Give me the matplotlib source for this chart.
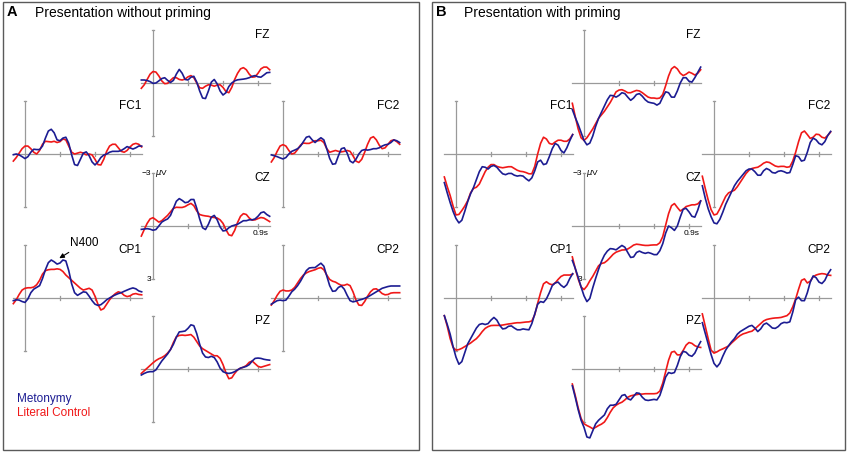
import numpy as np
import matplotlib
matplotlib.use("Agg")
import matplotlib.pyplot as plt
from matplotlib.patches import Rectangle

plt.rcParams['font.family'] = ['Liberation Sans', 'DejaVu Sans']

# ---------------- data (µV, negative plotted upward) ----------------
times = np.round(np.arange(-0.1, 1.0001, 0.025), 3)   # seconds
electrodes = ["FZ", "FC1", "FC2", "CZ", "CP1", "CP2", "PZ"]
conditions = ["Metonymy", "Literal Control"]
time_ticks = [0.3, 0.6, 0.9]

A_FZ_met = [-0.17, -0.17, -0.14, -0.08, 0.02, 0.0, -0.12, -0.25, -0.3,
            -0.15, -0.03, -0.15, -0.5, -0.77, -0.55, -0.2, -0.17, -0.33,
            -0.38, -0.05, 0.45, 0.85, 0.88, 0.45, -0.05, -0.2, 0.05,
            0.45, 0.68, 0.55, 0.2, 0.0, -0.12, -0.18, -0.2, -0.22,
            -0.25, -0.3, -0.38, -0.42, -0.35, -0.33, -0.45, -0.58, -0.6]
A_FZ_lit = [0.3, 0.1, -0.2, -0.5, -0.65, -0.62, -0.4, -0.12, 0.04,
            0.02, -0.15, -0.3, -0.3, -0.2, -0.17, -0.22, -0.35, -0.42,
            -0.3, 0.0, 0.27, 0.3, 0.18, 0.1, 0.12, 0.18, 0.12,
            0.1, 0.25, 0.48, 0.55, 0.25, -0.2, -0.55, -0.8, -0.87,
            -0.75, -0.5, -0.33, -0.35, -0.55, -0.8, -0.9, -0.9, -0.75]
A_FC1_met = [0.04, 0.0, 0.05, 0.15, 0.26, 0.15, -0.1, -0.27, -0.25,
             -0.25, -0.45, -0.9, -1.3, -1.4, -1.2, -0.8, -0.75, -0.9,
             -0.95, -0.6, 0.05, 0.6, 0.65, 0.3, -0.05, -0.12, 0.1,
             0.45, 0.62, 0.45, 0.2, 0.06, 0.0, -0.1, -0.15, -0.15,
             -0.15, -0.2, -0.3, -0.42, -0.35, -0.28, -0.35, -0.45, -0.45]
A_FC1_lit = [0.4, 0.2, -0.05, -0.3, -0.45, -0.45, -0.3, -0.1, 0.0,
             -0.2, -0.55, -0.72, -0.7, -0.68, -0.72, -0.65, -0.7, -0.85,
             -0.8, -0.45, -0.1, 0.0, -0.05, -0.1, -0.05, 0.05, 0.0,
             0.05, 0.3, 0.6, 0.62, 0.3, -0.15, -0.45, -0.55, -0.55,
             -0.35, -0.15, -0.1, -0.2, -0.4, -0.55, -0.6, -0.55, -0.4]
A_FC2_met = [0.05, 0.1, 0.15, 0.22, 0.28, 0.2, 0.0, -0.15, -0.22,
             -0.3, -0.45, -0.7, -0.95, -1.0, -0.8, -0.65, -0.8, -0.92,
             -0.8, -0.3, 0.25, 0.58, 0.55, 0.1, -0.3, -0.35, -0.05,
             0.4, 0.5, 0.3, 0.0, -0.2, -0.25, -0.22, -0.25, -0.3,
             -0.3, -0.35, -0.45, -0.52, -0.55, -0.65, -0.8, -0.75, -0.65]
A_FC2_lit = [0.45, 0.2, -0.15, -0.45, -0.53, -0.45, -0.2, 0.0, -0.05,
             -0.25, -0.5, -0.62, -0.6, -0.6, -0.68, -0.75, -0.75, -0.78,
             -0.65, -0.3, -0.1, -0.15, -0.2, -0.15, -0.12, -0.15, -0.2,
             -0.15, 0.1, 0.4, 0.48, 0.3, -0.1, -0.55, -0.9, -0.98,
             -0.8, -0.5, -0.3, -0.35, -0.55, -0.75, -0.8, -0.7, -0.55]
A_CZ_met = [0.19, 0.17, 0.15, 0.18, 0.24, 0.2, 0.0, -0.22, -0.32,
            -0.4, -0.6, -1.0, -1.4, -1.55, -1.45, -1.32, -1.35, -1.5,
            -1.5, -1.0, -0.4, 0.1, 0.2, -0.1, -0.5, -0.6, -0.35,
            0.05, 0.28, 0.25, 0.1, 0.0, -0.05, -0.1, -0.2, -0.3,
            -0.3, -0.35, -0.35, -0.4, -0.55, -0.75, -0.8, -0.65, -0.55]
A_CZ_lit = [0.57, 0.2, -0.15, -0.4, -0.47, -0.35, -0.22, -0.3, -0.45,
            -0.6, -0.8, -1.0, -1.06, -1.05, -1.05, -1.1, -1.2, -1.28,
            -1.15, -0.85, -0.65, -0.6, -0.57, -0.55, -0.5, -0.48, -0.45,
            -0.35, -0.15, 0.2, 0.5, 0.55, 0.25, -0.2, -0.55, -0.7,
            -0.65, -0.45, -0.33, -0.35, -0.42, -0.48, -0.45, -0.35, -0.25]
A_CP1_met = [0.15, 0.1, 0.12, 0.2, 0.25, 0.05, -0.3, -0.5, -0.6,
             -0.7, -1.1, -1.6, -2.0, -2.15, -2.05, -1.92, -1.98, -2.15,
             -2.1, -1.55, -0.8, -0.3, -0.15, -0.25, -0.35, -0.32, -0.1,
             0.15, 0.35, 0.42, 0.38, 0.25, 0.1, 0.0, -0.1, -0.18,
             -0.25, -0.3, -0.38, -0.45, -0.52, -0.57, -0.52, -0.4, -0.35]
A_CP1_lit = [0.32, 0.1, -0.2, -0.45, -0.55, -0.58, -0.58, -0.62, -0.75,
             -1.0, -1.35, -1.55, -1.6, -1.62, -1.62, -1.65, -1.62, -1.5,
             -1.3, -1.15, -1.0, -0.85, -0.7, -0.55, -0.45, -0.5, -0.55,
             -0.45, -0.1, 0.35, 0.68, 0.6, 0.35, 0.1, -0.1, -0.25,
             -0.35, -0.3, -0.15, -0.08, -0.12, -0.22, -0.25, -0.2, -0.18]
A_CP2_met = [0.35, 0.25, 0.15, 0.12, 0.15, 0.12, -0.1, -0.35, -0.5,
             -0.7, -0.95, -1.25, -1.55, -1.7, -1.72, -1.72, -1.85, -1.97,
             -1.8, -1.25, -0.7, -0.38, -0.4, -0.6, -0.68, -0.5, -0.15,
             0.15, 0.22, 0.18, 0.12, 0.08, 0.02, -0.05, -0.15, -0.25,
             -0.35, -0.45, -0.55, -0.6, -0.65, -0.68, -0.68, -0.68, -0.68]
A_CP2_lit = [0.4, 0.15, -0.15, -0.38, -0.45, -0.4, -0.4, -0.45, -0.6,
             -0.85, -1.1, -1.3, -1.42, -1.5, -1.55, -1.6, -1.68, -1.72,
             -1.6, -1.3, -1.05, -0.95, -0.9, -0.8, -0.72, -0.72, -0.78,
             -0.7, -0.35, 0.1, 0.4, 0.42, 0.2, -0.1, -0.35, -0.5,
             -0.52, -0.4, -0.25, -0.18, -0.2, -0.28, -0.3, -0.3, -0.3]
A_PZ_met = [0.34, 0.25, 0.18, 0.15, 0.15, 0.05, -0.2, -0.45, -0.65,
            -0.85, -1.1, -1.4, -1.8, -2.1, -2.12, -2.15, -2.3, -2.5,
            -2.45, -2.0, -1.4, -0.9, -0.68, -0.65, -0.72, -0.65, -0.4,
            -0.05, 0.15, 0.22, 0.25, 0.22, 0.15, 0.05, -0.05, -0.1,
            -0.15, -0.25, -0.45, -0.6, -0.62, -0.6, -0.55, -0.52, -0.5]
A_PZ_lit = [0.25, 0.1, -0.05, -0.2, -0.35, -0.48, -0.58, -0.65, -0.75,
            -0.9, -1.1, -1.5, -1.82, -1.9, -1.92, -1.9, -1.92, -1.95,
            -1.8, -1.55, -1.3, -1.15, -1.05, -0.95, -0.85, -0.75, -0.75,
            -0.6, -0.25, 0.2, 0.55, 0.5, 0.25, 0.05, -0.05, -0.1,
            -0.2, -0.38, -0.45, -0.3, -0.15, -0.1, -0.15, -0.2, -0.25]

B_FZ_met = [1.5, 1.95, 2.35, 2.8, 3.25, 3.5, 3.4, 3.0, 2.45,
            2.0, 1.65, 1.3, 0.95, 0.7, 0.72, 0.8, 0.7, 0.55,
            0.6, 0.8, 0.98, 0.85, 0.65, 0.6, 0.75, 0.95, 1.08,
            1.12, 1.15, 1.25, 1.15, 0.8, 0.5, 0.55, 0.8, 0.8,
            0.45, 0.0, -0.3, -0.3, -0.1, -0.05, -0.3, -0.6, -0.9]
B_FZ_lit = [1.15, 1.9, 2.6, 3.1, 3.25, 3.1, 2.85, 2.6, 2.3,
            2.0, 1.8, 1.6, 1.35, 1.1, 0.8, 0.5, 0.4, 0.38,
            0.45, 0.55, 0.55, 0.48, 0.42, 0.45, 0.55, 0.68, 0.8,
            0.85, 0.85, 0.88, 0.85, 0.65, 0.15, -0.4, -0.8, -0.93,
            -0.8, -0.55, -0.42, -0.5, -0.62, -0.55, -0.45, -0.55, -0.75]
B_FC1_met = [1.62, 2.2, 2.75, 3.25, 3.65, 3.9, 3.75, 3.25, 2.7,
             2.25, 1.9, 1.45, 1.0, 0.72, 0.75, 0.85, 0.7, 0.65,
             0.75, 0.95, 1.12, 1.17, 1.1, 1.1, 1.2, 1.25, 1.22,
             1.25, 1.4, 1.52, 1.35, 0.95, 0.45, 0.35, 0.6, 0.55,
             0.15, -0.3, -0.6, -0.5, -0.2, -0.06, -0.35, -0.75, -1.1]
B_FC1_lit = [1.3, 1.85, 2.35, 2.95, 3.45, 3.42, 3.2, 2.95, 2.65,
             2.2, 1.95, 1.88, 1.7, 1.35, 1.0, 0.75, 0.6, 0.6,
             0.7, 0.75, 0.78, 0.75, 0.72, 0.72, 0.82, 0.92, 0.98,
             1.0, 1.05, 1.12, 1.12, 0.7, 0.0, -0.6, -0.95, -0.85,
             -0.6, -0.55, -0.68, -0.78, -0.78, -0.72, -0.72, -0.85, -1.1]
B_FC2_met = [1.8, 2.5, 3.1, 3.55, 3.9, 3.95, 3.7, 3.3, 2.85,
             2.5, 2.15, 1.8, 1.55, 1.35, 1.15, 0.95, 0.85, 0.85,
             1.0, 1.2, 1.2, 0.95, 0.82, 0.9, 1.05, 1.08, 0.98,
             0.95, 1.0, 1.08, 1.05, 0.6, 0.1, 0.15, 0.4, 0.35,
             -0.1, -0.65, -0.9, -0.8, -0.6, -0.52, -0.7, -1.05, -1.28]
B_FC2_lit = [1.26, 1.95, 2.6, 3.15, 3.45, 3.4, 3.1, 2.75, 2.4,
             2.2, 2.12, 2.05, 1.85, 1.6, 1.35, 1.1, 0.92, 0.82,
             0.78, 0.75, 0.65, 0.52, 0.45, 0.48, 0.58, 0.68, 0.72,
             0.7, 0.7, 0.75, 0.72, 0.4, -0.1, -0.7, -1.2, -1.3,
             -1.1, -0.88, -0.95, -1.12, -1.1, -0.95, -0.9, -1.05, -1.25]
B_CZ_met = [1.95, 2.4, 2.9, 3.45, 3.95, 4.28, 4.1, 3.5, 2.96,
            2.45, 2.0, 1.65, 1.42, 1.28, 1.3, 1.35, 1.22, 1.1,
            1.2, 1.5, 1.78, 1.75, 1.5, 1.42, 1.5, 1.55, 1.5,
            1.55, 1.62, 1.62, 1.4, 1.0, 0.4, 0.0, 0.1, 0.25,
            0.0, -0.5, -0.95, -1.0, -0.8, -0.55, -0.5, -0.9, -1.42]
B_CZ_lit = [1.75, 2.4, 3.0, 3.45, 3.6, 3.4, 3.1, 2.85, 2.55,
            2.25, 2.12, 2.08, 1.95, 1.78, 1.6, 1.48, 1.42, 1.36,
            1.35, 1.3, 1.2, 1.08, 1.03, 1.05, 1.08, 1.1, 1.1,
            1.08, 1.07, 1.07, 0.95, 0.6, -0.05, -0.7, -1.15, -1.27,
            -1.05, -0.85, -0.95, -1.1, -1.15, -1.2, -1.2, -1.25, -1.42]
B_CP1_met = [1.0, 1.5, 2.05, 2.75, 3.35, 3.75, 3.6, 3.1, 2.6,
             2.3, 2.0, 1.7, 1.5, 1.45, 1.5, 1.45, 1.25, 1.1,
             1.25, 1.55, 1.75, 1.72, 1.6, 1.58, 1.7, 1.8, 1.8,
             1.75, 1.78, 1.8, 1.45, 0.9, 0.35, 0.2, 0.25, 0.05,
             -0.3, -0.7, -0.85, -0.9, -0.72, -0.6, -0.75, -1.1, -1.38]
B_CP1_lit = [1.0, 1.6, 2.3, 2.8, 2.95, 2.92, 2.85, 2.75, 2.65,
             2.55, 2.42, 2.3, 2.12, 1.9, 1.72, 1.62, 1.56, 1.55,
             1.55, 1.55, 1.53, 1.5, 1.47, 1.45, 1.42, 1.4, 1.4,
             1.38, 1.36, 1.35, 1.3, 0.95, 0.3, -0.3, -0.8, -0.92,
             -0.8, -0.75, -0.85, -1.05, -1.22, -1.3, -1.3, -1.3, -1.35]
B_CP2_met = [1.4, 2.0, 2.6, 3.2, 3.7, 3.9, 3.7, 3.3, 2.95,
             2.7, 2.48, 2.3, 2.05, 1.9, 1.8, 1.7, 1.6, 1.55,
             1.7, 1.9, 1.75, 1.5, 1.42, 1.55, 1.7, 1.72, 1.62,
             1.45, 1.38, 1.4, 1.35, 0.8, 0.1, -0.05, 0.15, 0.15,
             -0.3, -0.9, -1.25, -1.15, -0.9, -0.82, -1.0, -1.35, -1.6]
B_CP2_lit = [0.9, 1.6, 2.3, 2.95, 3.12, 3.05, 2.95, 2.88, 2.8,
             2.72, 2.55, 2.4, 2.25, 2.12, 2.03, 1.98, 1.92, 1.88,
             1.75, 1.6, 1.45, 1.3, 1.22, 1.18, 1.15, 1.13, 1.12,
             1.1, 1.05, 1.0, 0.85, 0.5, 0.05, -0.5, -1.0, -1.08,
             -0.85, -0.95, -1.2, -1.3, -1.35, -1.38, -1.36, -1.3, -1.28]
B_PZ_met = [0.95, 1.6, 2.3, 2.9, 3.3, 3.85, 3.9, 3.5, 3.1,
            2.9, 2.75, 2.6, 2.25, 2.05, 2.05, 2.0, 1.75, 1.5,
            1.45, 1.68, 1.75, 1.55, 1.35, 1.38, 1.6, 1.75, 1.78,
            1.75, 1.72, 1.75, 1.5, 1.0, 0.45, 0.2, 0.25, 0.2,
            -0.2, -0.7, -1.0, -0.95, -0.78, -0.72, -0.9, -1.25, -1.55]
B_PZ_lit = [0.85, 1.5, 2.2, 2.8, 3.1, 3.2, 3.28, 3.38, 3.3,
            3.2, 3.12, 3.0, 2.75, 2.45, 2.2, 2.05, 1.95, 1.88,
            1.75, 1.6, 1.52, 1.48, 1.45, 1.42, 1.42, 1.4, 1.4,
            1.4, 1.4, 1.38, 1.25, 0.8, 0.15, -0.5, -0.95, -1.0,
            -0.8, -0.8, -1.05, -1.35, -1.5, -1.45, -1.32, -1.25, -1.22]

waves = {
    "A": {"FZ": (A_FZ_met, A_FZ_lit), "FC1": (A_FC1_met, A_FC1_lit),
          "FC2": (A_FC2_met, A_FC2_lit), "CZ": (A_CZ_met, A_CZ_lit),
          "CP1": (A_CP1_met, A_CP1_lit), "CP2": (A_CP2_met, A_CP2_lit),
          "PZ": (A_PZ_met, A_PZ_lit)},
    "B": {"FZ": (B_FZ_met, B_FZ_lit), "FC1": (B_FC1_met, B_FC1_lit),
          "FC2": (B_FC2_met, B_FC2_lit), "CZ": (B_CZ_met, B_CZ_lit),
          "CP1": (B_CP1_met, B_CP1_lit), "CP2": (B_CP2_met, B_CP2_lit),
          "PZ": (B_PZ_met, B_PZ_lit)},
}
panel_titles = {"A": "Presentation without priming", "B": "Presentation with priming"}

# ---------------- layout (pixels) ----------------
W, H = 850, 453
fig = plt.figure(figsize=(W / 100, H / 100), dpi=100)

def fx(x):
    return x / W

def fy(y):
    return 1 - y / H

PX_PER_S = 35 / 0.3
HALF_H = 53           # pixels for 3 µV
site_pos = {"FZ": (153, 83), "FC1": (25, 154), "FC2": (283, 154),
            "CZ": (153, 226), "CP1": (25, 298), "CP2": (283, 298),
            "PZ": (153, 369)}
panel_dx = {"A": 0, "B": 431}
panel_frame = {"A": (3, 2, 419, 450), "B": (432, 2, 845, 450)}

BLUE = "#1c1c92"
RED = "#f01818"
AXC = "#9a9a9a"

for p in ["A", "B"]:
    x0, y0, x1, y1 = panel_frame[p]
    fig.add_artist(Rectangle((fx(x0), fy(y1)), fx(x1) - fx(x0), fy(y0) - fy(y1),
                             transform=fig.transFigure, fill=False,
                             edgecolor="#5a5a5a", linewidth=1.0))
    fig.text(fx(x0 + 4), fy(16.5), p, fontsize=10.5, fontweight="bold",
             ha="left", va="baseline")
    fig.text(fx(x0 + 32), fy(16.5), panel_titles[p], fontsize=10,
             ha="left", va="baseline")

    for site in electrodes:
        vx, zy = site_pos[site]
        vx += panel_dx[p]
        left = vx - 0.1 * PX_PER_S
        width = 1.1 * PX_PER_S
        ax = fig.add_axes([fx(left), fy(zy + HALF_H), width / W, 2 * HALF_H / H])
        ax.set_xlim(-0.1, 1.0)
        ax.set_ylim(3, -3)
        ax.axis("off")
        # axes lines
        ax.plot([0, 0], [-3, 3], color=AXC, lw=0.9, clip_on=False, zorder=1)
        for yy in (-3, 3):
            ax.plot([-0.012, 0.012], [yy, yy], color=AXC, lw=0.9, clip_on=False, zorder=1)
        ax.plot([-0.1, 1.0], [0, 0], color=AXC, lw=0.9, clip_on=False, zorder=1)
        for tt in time_ticks:
            ax.plot([tt, tt], [-0.09, 0.09], color=AXC, lw=0.9, clip_on=False, zorder=1)
        met, lit = waves[p][site]
        ax.plot(times, lit, color=RED, lw=1.2, clip_on=False, zorder=3,
                solid_joinstyle="round", antialiased=True)
        ax.plot(times, met, color=BLUE, lw=1.2, clip_on=False, zorder=4,
                solid_joinstyle="round", antialiased=True)
        ax.text(1.0, -2.72, site, ha="right", va="center", fontsize=8.5, zorder=5)
        if site == "CZ":
            ax.text(-0.014, -3, "\u22123", ha="right", va="center", fontsize=6)
            ax.text(0.014, -3, r"$\mu$V", ha="left", va="center", fontsize=6)
            ax.text(-0.014, 3, "3", ha="right", va="center", fontsize=6)
            ax.text(0.92, 0.42, "0.9s", ha="center", va="center", fontsize=6)
        if p == "A" and site == "CP1":
            ax.annotate("N400", xy=(0.294, -2.25), xytext=(0.385, -3.12),
                        ha="left", va="center", fontsize=8.5,
                        arrowprops=dict(arrowstyle="-|>", color="black", lw=0.8,
                                        mutation_scale=7, shrinkA=1, shrinkB=0),
                        annotation_clip=False)

fig.text(fx(17), fy(402), conditions[0], color=BLUE, fontsize=8.5,
         ha="left", va="baseline")
fig.text(fx(17), fy(415.5), conditions[1], color=RED, fontsize=8.5,
         ha="left", va="baseline")

fig.savefig("out.png", dpi=100)
